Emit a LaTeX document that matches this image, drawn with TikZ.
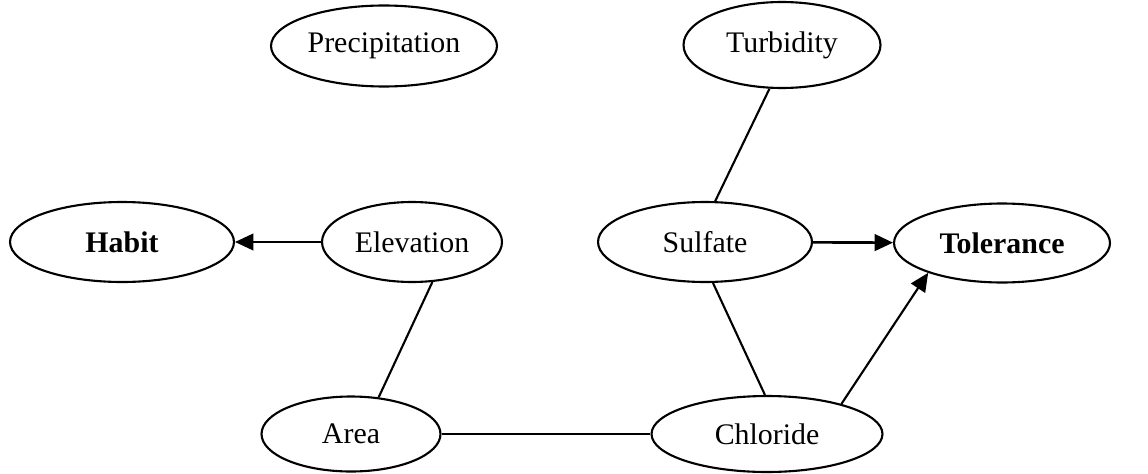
\documentclass[tikz,border=0pt]{standalone}
\usepackage{fontspec}
\setmainfont{Liberation Serif}
\usetikzlibrary{shapes.geometric, arrows.meta}

\begin{document}
\begin{tikzpicture}[x=0.02cm, y=-0.02cm, line width=1.2pt,
        var/.style={draw, ellipse, inner sep=0pt, font=\fontsize{17}{20}\selectfont},
        dep/.style={-{Triangle[length=10.5pt, width=9.5pt]}}]
        \useasboundingbox (0,0) rectangle (1148,473);
        % top row
        \node[var, minimum width=4.52cm, minimum height=1.62cm] (prec) at (384,46) {Precipitation};
        \node[var, minimum width=3.94cm, minimum height=1.72cm] (turb) at (782,45) {Turbidity};
        % middle row
        \node[var, minimum width=4.48cm, minimum height=1.6cm] (habit) at (122,242) {\textbf{Habit}};
        \node[var, minimum width=3.6cm, minimum height=1.6cm] (elev) at (412,242) {Elevation};
        \node[var, minimum width=4.28cm, minimum height=1.6cm] (sulf) at (705,242) {Sulfate};
        \node[var, minimum width=4.32cm, minimum height=1.58cm] (tol) at (1002,243) {\textbf{Tolerance}};
        % bottom row
        \node[var, minimum width=3.58cm, minimum height=1.5cm] (area) at (351,434) {Area};
        \node[var, minimum width=4.62cm, minimum height=1.52cm] (chlor) at (767,434) {Chloride};
        \path[dep]
        (elev) edge (habit)
        (sulf) edge[line width=1.5pt] (tol)
        (chlor.22) edge (tol.202);
        \path
        (turb.254) edge (sulf.76)
        (elev.-63) edge (area.53)
        (sulf.-79) edge (chlor.93)
        (area) edge (chlor);
    \end{tikzpicture}
\end{document}
